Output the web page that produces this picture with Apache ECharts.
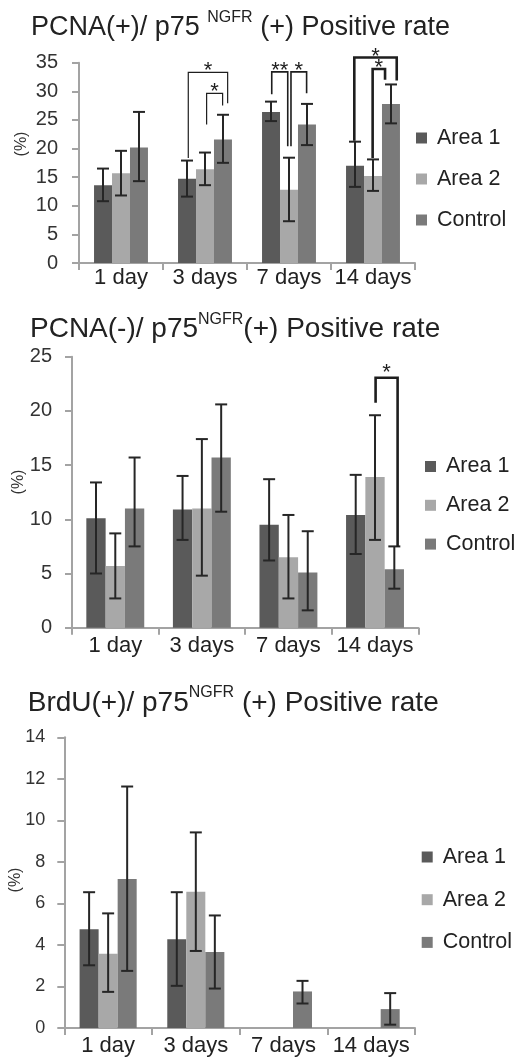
<!DOCTYPE html>
<html>
<head>
<meta charset="utf-8">
<script src="https://cdn.jsdelivr.net/npm/echarts@6/dist/echarts.min.js"></script>
<style>html,body{margin:0;padding:0;background:#fff}#c{width:517px;height:1057px}</style>
</head>
<body>
<div id="c"></div>
<script>
// ---------------- DATA ----------------
const categories = ['1 day', '3 days', '7 days', '14 days'];
const seriesNames = ['Area 1', 'Area 2', 'Control'];

// Chart 1: PCNA(+)/p75NGFR(+)
const yTicks1 = [0, 5, 10, 15, 20, 25, 30, 35];
const pcnaPosArea1 = [13.6, 14.7, 26.4, 17.0];
const pcnaPosArea2 = [15.7, 16.4, 12.8, 15.2];
const pcnaPosControl = [20.2, 21.6, 24.2, 27.8];
const pcnaPosArea1Err = [[10.8, 16.5], [11.6, 17.9], [24.8, 28.2], [13.3, 21.2]];
const pcnaPosArea2Err = [[11.8, 19.6], [13.6, 19.3], [7.3, 18.4], [12.6, 18.1]];
const pcnaPosControlErr = [[14.3, 26.4], [17.5, 25.9], [20.6, 27.8], [24.4, 31.2]];
// [categoryIndex, leftSlot, rightSlot, topValue, leftEndValue, rightEndValue, label]
const pcnaPosBrackets = [
  [1, 0.07, 2.26, 33.3, 18.35, 27.9, '*'],
  [1, 1.09, 1.98, 29.65, 24.2, 27.5, '*'],
  [2, 0.04, 0.93, 33.4, 29.5, 20.4, '**'],
  [2, 1.11, 1.98, 33.4, 20.4, 29.65, '*'],
  [3, -0.04, 2.32, 35.9, 21.35, 31.9, '*'],
  [3, 0.98, 1.67, 33.9, 18.35, 32.0, '*']
];

// Chart 2: PCNA(-)/p75NGFR(+)
const yTicks2 = [0, 5, 10, 15, 20, 25];
const pcnaNegArea1 = [10.1, 10.9, 9.5, 10.4];
const pcnaNegArea2 = [5.7, 11.0, 6.5, 13.9];
const pcnaNegControl = [11.0, 15.7, 5.1, 5.4];
const pcnaNegArea1Err = [[5.0, 13.4], [8.1, 14.0], [6.2, 13.7], [6.8, 14.1]];
const pcnaNegArea2Err = [[2.7, 8.7], [4.8, 17.4], [2.7, 10.4], [8.1, 19.6]];
const pcnaNegControlErr = [[7.5, 15.7], [10.7, 20.6], [1.6, 8.9], [3.6, 7.5]];
const pcnaNegBrackets = [
  [3, 1.03, 2.17, 23.06, 20.76, 7.47, '*']
];

// Chart 3: BrdU(+)/p75NGFR(+)
const yTicks3 = [0, 2, 4, 6, 8, 10, 12, 14];
const brduArea1 = [4.75, 4.27, 0, 0];
const brduArea2 = [3.57, 6.56, 0, 0];
const brduControl = [7.18, 3.66, 1.76, 0.91];
const brduArea1Err = [[3.02, 6.54], [2.03, 6.54], null, null];
const brduArea2Err = [[1.74, 5.52], [3.71, 9.42], null, null];
const brduControlErr = [[2.75, 11.63], [1.90, 5.42], [1.18, 2.27], [0.16, 1.68]];
const brduBrackets = [];

// ---------------- RENDERING ----------------
const FONT = '"Liberation Sans", Arial, Helvetica, sans-serif';
const COLORS = ['#5a5a5a', '#a8a8a8', '#7a7a7a'];
const TXT = '#222';

const charts = [
  {
    values: [pcnaPosArea1, pcnaPosArea2, pcnaPosControl],
    errs: [pcnaPosArea1Err, pcnaPosArea2Err, pcnaPosControlErr],
    brackets: pcnaPosBrackets, ticks: yTicks1,
    grid: {left: 79, top: 62.7, width: 336, height: 200.3},
    barFrac: 0.214, yLabelSize: 20, yLabelMargin: 21, xLabelMargin: 4,
    bracketWidths: [1.2, 1.2, 1.6, 1.6, 2.6, 2.6], starOffset: 7,
    legend: {left: 416, top: 127, gap: 19},
    pct: [22, 144],
    title: {left: 31, top: 10, size: 27, text: '{a|PCNA(+)/ p75 }{s|NGFR}{a| (+) Positive rate}'}
  },
  {
    values: [pcnaNegArea1, pcnaNegArea2, pcnaNegControl],
    errs: [pcnaNegArea1Err, pcnaNegArea2Err, pcnaNegControlErr],
    brackets: pcnaNegBrackets, ticks: yTicks2,
    grid: {left: 72, top: 356.7, width: 346.3, height: 271},
    barFrac: 0.223, yLabelSize: 20, yLabelMargin: 20, xLabelMargin: 7,
    bracketWidths: [2.6], starOffset: 11,
    legend: {left: 425, top: 455.5, gap: 16.8},
    pct: [18.5, 482],
    title: {left: 30, top: 311.5, size: 28, text: '{a|PCNA(-)/ p75}{s|NGFR}{a|(+) Positive rate}'}
  },
  {
    values: [brduArea1, brduArea2, brduControl],
    errs: [brduArea1Err, brduArea2Err, brduControlErr],
    brackets: brduBrackets, ticks: yTicks3,
    grid: {left: 64.3, top: 737.3, width: 350.7, height: 291.7},
    barFrac: 0.217, yLabelSize: 18, yLabelMargin: 19, xLabelMargin: 7,
    bracketWidths: [], starOffset: 8,
    legend: {left: 421.7, top: 846, gap: 20.7},
    pct: [16, 880],
    title: {left: 27.7, top: 685, size: 28, text: '{a|BrdU(+)/ p75}{s|NGFR}{a| (+) Positive rate}'}
  }
];

const option = {
  animation: false,
  backgroundColor: '#fff',
  textStyle: {fontFamily: FONT},
  title: [], grid: [], xAxis: [], yAxis: [], legend: [], series: [], graphic: []
};

charts.forEach((c, gi) => {
  const axisLineStyle = {color: '#a3a3a3', width: 2};
  option.title.push({
    left: c.title.left, top: c.title.top, padding: 0,
    text: c.title.text,
    textStyle: {
      fontWeight: 'normal',
      rich: {
        a: {fontSize: c.title.size, lineHeight: 36, fontFamily: FONT, fontWeight: 'normal', color: TXT},
        s: {fontSize: 16, lineHeight: 16, verticalAlign: 'top', fontFamily: FONT, fontWeight: 'normal', color: TXT}
      }
    }
  });
  option.grid.push(Object.assign({containLabel: false}, c.grid));
  option.xAxis.push({
    type: 'category', gridIndex: gi, data: categories,
    axisLine: {lineStyle: axisLineStyle},
    axisTick: {show: true, length: 7, lineStyle: axisLineStyle},
    axisLabel: {fontSize: 22, color: TXT, fontFamily: FONT, margin: c.xLabelMargin, interval: 0},
    splitLine: {show: false}
  });
  option.yAxis.push({
    type: 'value', gridIndex: gi,
    min: c.ticks[0], max: c.ticks[c.ticks.length - 1], interval: c.ticks[1] - c.ticks[0],
    axisLine: {show: true, lineStyle: axisLineStyle},
    axisTick: {show: true, length: 7, lineStyle: axisLineStyle},
    axisLabel: {fontSize: c.yLabelSize, color: '#333', fontFamily: FONT, margin: c.yLabelMargin},
    splitLine: {show: false}
  });
  option.legend.push({
    orient: 'vertical', left: c.legend.left, top: c.legend.top, padding: 0,
    itemWidth: 11, itemHeight: 11, itemGap: c.legend.gap, icon: 'rect',
    selectedMode: false, data: seriesNames,
    textStyle: {fontSize: 21.5, lineHeight: 21, color: TXT, fontFamily: FONT, padding: [0, 0, 0, 5]}
  });
  option.graphic.push({
    type: 'text', x: c.pct[0], y: c.pct[1], rotation: Math.PI / 2,
    style: {text: '(%)', fontSize: 16, fontFamily: FONT, fill: '#333',
      align: 'center', verticalAlign: 'middle', textAlign: 'center', textVerticalAlign: 'middle'}
  });

  // bars
  c.values.forEach((vals, si) => {
    option.series.push({
      type: 'bar', name: seriesNames[si], xAxisIndex: gi, yAxisIndex: gi,
      data: vals, barWidth: (c.barFrac * 100) + '%', barGap: '0%',
      itemStyle: {color: COLORS[si]},
      emphasis: {disabled: true}
    });
  });

  // error bars
  const errData = [];
  c.errs.forEach((arr, si) => {
    arr.forEach((e, ci) => { if (e) errData.push([ci, si, e[0], e[1]]); });
  });
  const barFrac = c.barFrac;
  option.series.push({
    type: 'custom', name: 'err' + gi, xAxisIndex: gi, yAxisIndex: gi, z: 5,
    encode: {x: 0, y: 3}, data: errData, silent: true,
    renderItem: function (params, api) {
      const cat = api.value(0), slot = api.value(1);
      const lo = api.coord([cat, api.value(2)]);
      const hi = api.coord([cat, api.value(3)]);
      const bw = api.size([1, 0])[0] * barFrac;
      const x = lo[0] + (slot - 1) * bw;
      const cap = 6;
      const st = {stroke: '#262626', lineWidth: 2};
      return {type: 'group', children: [
        {type: 'line', shape: {x1: x, y1: lo[1], x2: x, y2: hi[1]}, style: st},
        {type: 'line', shape: {x1: x - cap, y1: lo[1], x2: x + cap, y2: lo[1]}, style: st},
        {type: 'line', shape: {x1: x - cap, y1: hi[1], x2: x + cap, y2: hi[1]}, style: st}
      ]};
    }
  });

  // significance brackets
  if (c.brackets.length) {
    const br = c.brackets;
    const widths = c.bracketWidths;
    const starOff = c.starOffset;
    option.series.push({
      type: 'custom', name: 'sig' + gi, xAxisIndex: gi, yAxisIndex: gi, z: 6,
      encode: {x: 0, y: 3}, silent: true, clip: false,
      data: br.map(b => [b[0], b[1], b[2], b[3], b[4], b[5]]),
      renderItem: function (params, api) {
        const b = br[params.dataIndex];
        const cat = b[0];
        const bw = api.size([1, 0])[0] * barFrac;
        const cx = api.coord([cat, 0])[0];
        const xl = cx + (b[1] - 1) * bw, xr = cx + (b[2] - 1) * bw;
        const yt = api.coord([cat, b[3]])[1];
        const yl = api.coord([cat, b[4]])[1];
        const yr = api.coord([cat, b[5]])[1];
        const lw = widths[params.dataIndex] || 1.5;
        return {type: 'group', children: [
          {type: 'polyline', shape: {points: [[xl, yl], [xl, yt], [xr, yt], [xr, yr]]},
            style: {stroke: '#1e1e1e', lineWidth: lw, fill: null}},
          {type: 'text', style: {text: b[6], x: (xl + xr) / 2, y: yt - starOff + 6,
            fontSize: 22, fontFamily: FONT, fill: '#1e1e1e', align: 'center', verticalAlign: 'middle'}}
        ]};
      }
    });
  }
});

const chart = echarts.init(document.getElementById('c'), null, {renderer: 'canvas', width: 517, height: 1057});
chart.setOption(option);
</script>
</body>
</html>
